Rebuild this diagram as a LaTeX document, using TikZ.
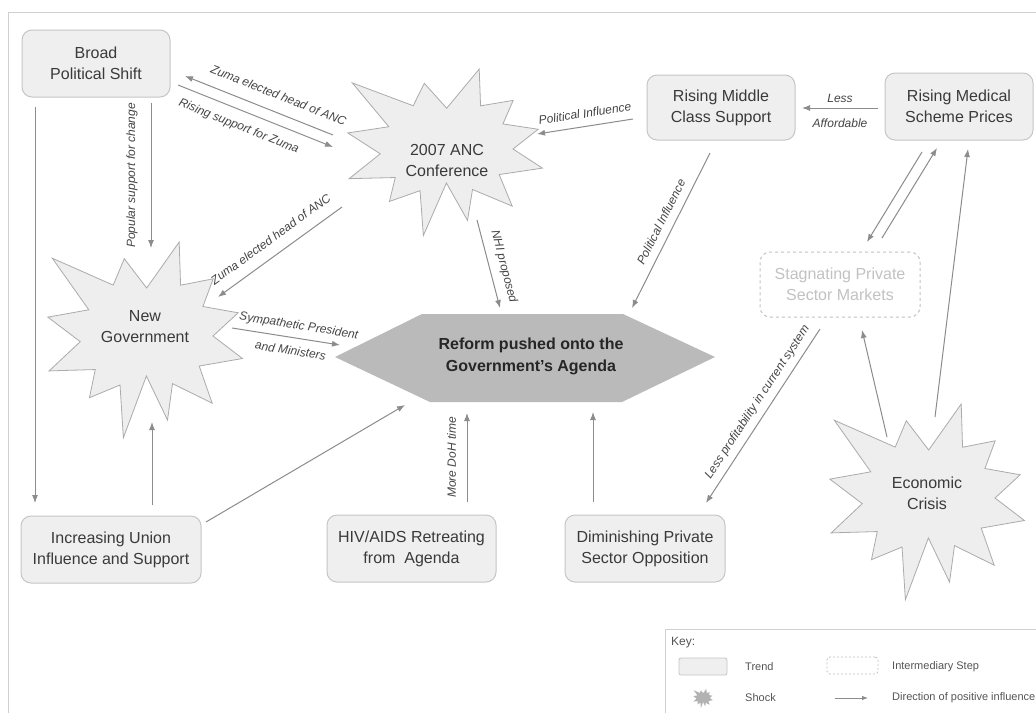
\documentclass[tikz,border=0pt]{standalone}
\usepackage{fontspec}
\setmainfont{Liberation Sans}
\usetikzlibrary{arrows.meta}
\definecolor{boxfill}{HTML}{EFEFEF}
\definecolor{boxline}{HTML}{C6C6C6}
\definecolor{txt}{HTML}{3A3A3A}
\definecolor{arrowc}{HTML}{8C8C8C}
\definecolor{starfill}{HTML}{EEEEEE}
\definecolor{starline}{HTML}{ABABAB}
\definecolor{hexfill}{HTML}{BABABA}
\definecolor{ghost}{HTML}{C2C2C2}
\definecolor{framec}{HTML}{D0D0D0}
\definecolor{lblc}{HTML}{454545}
\definecolor{keyc}{HTML}{555555}
\def\starpts{(-140:121) -- (-122:60) -- (-105:80) -- (-88:48) -- (-70:100) -- (-55:62) -- (-40:89) -- (-27:65) -- (-14:96) -- (0:68) -- (13:100) -- (29:62) -- (45:95) -- (60:55) -- (75:87) -- (88:40) -- (102:104) -- (117:55) -- (132:83) -- (146:60) -- (160:102) -- (175:65) -- (191:99) -- (205:62) -- cycle}
\tikzset{
  trend/.style={draw=boxline, fill=boxfill, rounded corners=10pt, line width=1pt, text=txt,
    font=\fontsize{16}{21}\selectfont, align=center},
  inter/.style={draw=ghost, dash pattern=on 3pt off 3pt, rounded corners=10pt, line width=1pt, text=ghost,
    font=\fontsize{16}{21}\selectfont, align=center},
  shock/.style={draw=starline, fill=starfill, line width=0.8pt},
  shocktext/.style={text=txt, font=\fontsize{16}{21}\selectfont, align=center},
  arr/.style={draw=arrowc, line width=1pt, -{Latex[length=8pt,width=6pt]}},
  lbl/.style={font=\fontsize{12}{14}\selectfont\itshape, text=lblc, inner sep=2pt},
  keytxt/.style={font=\fontsize{11}{13}\selectfont, text=keyc, anchor=west, inner sep=2pt}
}
\begin{document}
\begin{tikzpicture}[x=1pt, y=-1pt]
\path[use as bounding box, fill=white] (0,0) rectangle (1036,713);
% frame
\draw[framec, line width=1pt] (8,713) -- (8,12) -- (1036,12);

% trend boxes
\node[trend, minimum width=148pt, minimum height=67pt] (bps) at (96,63.5) {Broad\\Political Shift};
\node[trend, minimum width=148pt, minimum height=65pt] (rmc) at (721,107.5) {Rising Middle\\Class Support};
\node[trend, minimum width=148pt, minimum height=67pt] (rms) at (959,106.5) {Rising Medical\\Scheme Prices};
\node[inter, minimum width=160pt, minimum height=65pt] (spm) at (840,284.5) {Stagnating Private\\Sector Markets};
\node[trend, minimum width=180pt, minimum height=67pt] (iu) at (111,549.5) {Increasing Union\\Influence and Support};
\node[trend, minimum width=169pt, minimum height=67pt] (hiv) at (411.5,548.5) {HIV/AIDS Retreating\\from\ \ Agenda};
\node[trend, minimum width=160pt, minimum height=67pt] (dps) at (645,548.5) {Diminishing Private\\Sector Opposition};

% shocks
\draw[shock, shift={(445,149)}, yscale=0.85] \starpts;
\node[shocktext] (anc) at (447,160) {2007 ANC\\Conference};
\draw[shock, shift={(145,336)}] \starpts;
\node[shocktext] (ng) at (145,327) {New\\Government};
\draw[shock, shift={(927,498)}] \starpts;
\node[shocktext] (eco) at (927,493.5) {Economic\\Crisis};

% reform hexagon
\fill[hexfill] (335,357) -- (422,314) -- (623,314) -- (715,357) -- (622,402) -- (430,402) -- cycle;
\node[font=\bfseries\fontsize{16}{22}\selectfont, text=black!85, align=center] (reform) at (531,356) {Reform pushed onto the\\Government's Agenda};

% connectors
\draw[arr] ([shift={(-114,-25)}]anc.center) -- ([shift={(89,12.5)}]bps.center)
  node[lbl, pos=0.41, sloped, above, inner ysep=12pt] {Zuma elected head of ANC};
\draw[arr] ([shift={(82,21.5)}]bps.center) -- ([shift={(-114,-13)}]anc.center)
  node[lbl, pos=0.43, sloped, below, inner ysep=10pt] {Rising support for Zuma};
\draw[arr] ([shift={(-105,47)}]anc.center) -- ([shift={(73,-30)}]ng.center)
  node[lbl, midway, sloped, above, inner ysep=11pt] {Zuma elected head of ANC};
\draw[arr] ([shift={(87,1)}]ng.center) -- ([shift={(-191,-11)}]reform.center)
  node[lbl, pos=0.6, sloped, above, inner ysep=6pt] {Sympathetic President}
  node[lbl, pos=0.56, sloped, below, inner ysep=8pt] {and Ministers};
\draw[arr] ([shift={(55,39.5)}]bps.center) -- ([shift={(6,-79)}]ng.center)
  node[lbl, midway, xshift=-11pt, rotate=90, anchor=south] {Popular support for change};
\draw[arr] ([shift={(-61,43.5)}]bps.center) -- ([shift={(-76,-46.5)}]iu.center);
\draw[arr] ([shift={(41,-44.5)}]iu.center) -- ([shift={(7,95)}]ng.center);
\draw[arr] ([shift={(95,-27.5)}]iu.center) -- ([shift={(-126,49)}]reform.center);
\draw[arr] ([shift={(55.5,-46.5)}]hiv.center) -- ([shift={(-64,57)}]reform.center)
  node[lbl, midway, xshift=-8.5pt, rotate=90, anchor=south] {More DoH time};
\draw[arr] ([shift={(-52,-46.5)}]dps.center) -- ([shift={(62,56)}]reform.center);
\draw[arr] ([shift={(30,60)}]anc.center) -- ([shift={(-31,-48)}]reform.center)
  node[lbl, pos=0.57, sloped, above, inner ysep=8pt] {NHI proposed};
\draw[arr] ([shift={(-88,11.5)}]rmc.center) -- ([shift={(90,-26)}]anc.center)
  node[lbl, pos=0.48, sloped, above, inner ysep=8pt] {Political Influence};
\draw[arr] ([shift={(-11,45.5)}]rmc.center) -- ([shift={(101,-48)}]reform.center)
  node[lbl, pos=0.48, sloped, above, inner ysep=8pt] {Political Influence};
\draw[arr] ([shift={(-81,1.5)}]rms.center) -- ([shift={(81,0.5)}]rmc.center)
  node[lbl, midway, above, inner ysep=5pt] {Less}
  node[lbl, midway, below, inner ysep=10pt] {Affordable};
\draw[arr] ([shift={(-37,45.5)}]rms.center) -- ([shift={(27,-42.5)}]spm.center);
\draw[arr] ([shift={(42,-46.5)}]spm.center) -- ([shift={(-22,41.5)}]rms.center);
\draw[arr] ([shift={(-20,44.5)}]spm.center) -- ([shift={(61,-45.5)}]dps.center)
  node[lbl, pos=0.46, sloped, above, inner ysep=6pt] {Less profitability in current system};
\draw[arr] ([shift={(-40,-56.5)}]eco.center) -- ([shift={(22,45.5)}]spm.center);
\draw[arr] ([shift={(8,-76.5)}]eco.center) -- ([shift={(9,42.5)}]rms.center);

% key
\draw[framec, line width=1pt] (665,713) -- (665,629) -- (1036,629);
\node[keytxt, font=\fontsize{12}{14}\selectfont] (key) at (669,643) {Key:};
\node[draw=boxline, fill=boxfill, rounded corners=2pt, line width=0.8pt, minimum width=48pt, minimum height=17pt, inner sep=0pt] (ktrend) at (703,666.5) {};
\node[keytxt] (ktrendt) at (743,667) {Trend};
\node[draw=ghost, dash pattern=on 2pt off 2pt, rounded corners=3pt, line width=0.8pt, minimum width=51pt, minimum height=17pt, inner sep=0pt] (kinter) at (852.5,665.5) {};
\node[keytxt] (kintert) at (890,667) {Intermediary Step};
\fill[black!30, shift={(703,698)}, scale=0.1] \starpts;
\node[keytxt] (kshockt) at (743,698) {Shock};
\coordinate (ka) at (835,698);
\coordinate (kb) at (868,698);
\draw[draw=arrowc, line width=0.8pt, -{Latex[length=6pt,width=4.5pt]}] (ka) -- (kb);
\node[keytxt] (karrt) at (890,698) {Direction of positive influence};
\end{tikzpicture}
\end{document}
